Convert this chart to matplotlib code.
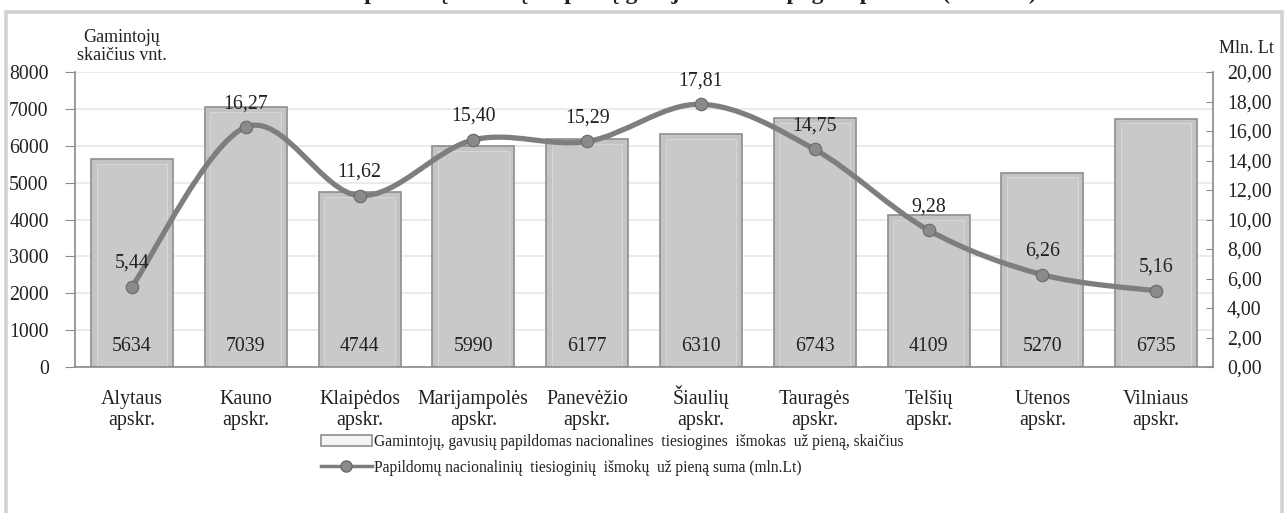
import matplotlib.pyplot as plt
from matplotlib.path import Path
from matplotlib.patches import PathPatch, Rectangle
from matplotlib.lines import Line2D
from matplotlib.transforms import blended_transform_factory

categories = ['Alytaus\napskr.', 'Kauno\napskr.', 'Klaipėdos\napskr.', 'Marijampolės\napskr.',
              'Panevėžio\napskr.', 'Šiaulių\napskr.', 'Tauragės\napskr.', 'Telšių\napskr.',
              'Utenos\napskr.', 'Vilniaus\napskr.']
producers = [5634, 7039, 4744, 5990, 6177, 6310, 6743, 4109, 5270, 6735]
payments = [5.44, 16.27, 11.62, 15.40, 15.29, 17.81, 14.75, 9.28, 6.26, 5.16]
left_ticks = [0, 1000, 2000, 3000, 4000, 5000, 6000, 7000, 8000]
right_ticks = [0, 2, 4, 6, 8, 10, 12, 14, 16, 18, 20]

bar_label = 'Gamintojų, gavusių papildomas nacionalines  tiesiogines  išmokas  už pieną, skaičius'
line_label = 'Papildomų nacionalinių  tiesioginių  išmokų  už pieną suma (mln.Lt)'
title = 'Papildomų išmokų už pieną gavėjai ir suma pagal apskritis (2012 m.)'

plt.rcParams['font.family'] = 'Liberation Serif'
txt = '#222222'
fs = 14.3

fig = plt.figure(figsize=(12.85, 5.13), dpi=100)
ax = fig.add_axes([0.0584, 0.2846, 0.8856, 0.575])
ax2 = ax.twinx()

# outer frame
fig.patches.append(Rectangle((6 / 1285, -0.05), 1276 / 1285, 1.05 - 12 / 513, transform=fig.transFigure,
                             fill=False, edgecolor='#d2d2d2', lw=2.6))
# title is cut by the top edge in the reference, only descenders show
fig.text(0.535, 1 + 1.5 / 513, title, ha='center', va='baseline', fontsize=17, fontweight='bold', color=txt)

x = list(range(len(categories)))
ax.bar(x, producers, width=0.72, color='#c4c4c6', edgecolor='#8e8e90', lw=1.2, zorder=2)
ax.bar(x, [p - 120 for p in producers], width=0.62, color='#c9c9cb', edgecolor='#d6d6d8', lw=0.8, zorder=2)
for xi, v in zip(x, producers):
    ax.text(xi, 560, str(v), ha='center', va='center', fontsize=fs, color=txt, zorder=3)

ax.set_xlim(-0.5, 9.5)
ax.set_ylim(0, 8000)
ax.set_yticks(left_ticks)
ax.set_yticklabels([str(t) for t in left_ticks])
ax.set_xticks([])
trans = blended_transform_factory(ax.transData, fig.transFigure)
for xi, c in zip(x, categories):
    first, second = c.split('\n')
    ax.text(xi, 1 - 404 / 513, first, transform=trans, ha='center', va='baseline', fontsize=fs, color=txt)
    ax.text(xi, 1 - 425 / 513, second, transform=trans, ha='center', va='baseline', fontsize=fs, color=txt)
ax.tick_params(axis='y', labelsize=fs, labelcolor=txt, color='#8a8a8a', length=7, pad=12)
ax.grid(axis='y', color='#e8e8e8', lw=1.2, zorder=0)
ax.set_axisbelow(True)
for s in ['top', 'right']:
    ax.spines[s].set_visible(False)
for s in ['left', 'bottom']:
    ax.spines[s].set_color('#8a8a8a')
    ax.spines[s].set_linewidth(1.2)

# smoothed line (Catmull-Rom bezier like Excel)
pts = list(zip(x, payments))
verts = [pts[0]]
codes = [Path.MOVETO]
n = len(pts)
for i in range(n - 1):
    p0 = pts[i - 1] if i > 0 else pts[i]
    p1 = pts[i]
    p2 = pts[i + 1]
    p3 = pts[i + 2] if i + 2 < n else pts[i + 1]
    c1 = (p1[0] + (p2[0] - p0[0]) / 6, p1[1] + (p2[1] - p0[1]) / 6)
    c2 = (p2[0] - (p3[0] - p1[0]) / 6, p2[1] - (p3[1] - p1[1]) / 6)
    verts += [c1, c2, p2]
    codes += [Path.CURVE4] * 3
ax2.add_patch(PathPatch(Path(verts, codes), fill=False, edgecolor='#7e7e80', lw=3.8, zorder=4,
                        capstyle='round'))
ax2.plot(x, payments, 'o', ms=9, color='#8a8a8c', mec='#6a6a6c', mew=0.8, zorder=5)
for xi, v in zip(x, payments):
    ax2.annotate(f'{v:.2f}'.replace('.', ','), (xi, v), xytext=(0, 10), textcoords='offset points',
                 ha='center', va='bottom', fontsize=fs, color=txt, zorder=6)

ax2.set_ylim(0, 20)
ax2.set_yticks(right_ticks)
ax2.set_yticklabels([f'{t:.2f}'.replace('.', ',') for t in right_ticks])
ax2.tick_params(axis='y', direction='in', labelsize=fs, labelcolor=txt, color='#8a8a8a', length=5, pad=10)
for s in ['top', 'left', 'bottom']:
    ax2.spines[s].set_visible(False)
ax2.spines['right'].set_color('#8a8a8a')
ax2.spines['right'].set_linewidth(1.2)

fig.text(122 / 1285, 1 - 60 / 513, 'Gamintojų\nskaičius vnt.', ha='center', va='baseline', fontsize=13,
         color=txt, linespacing=1.05)
fig.text(1219 / 1285, 1 - 53 / 513, 'Mln. Lt', ha='left', va='baseline', fontsize=13, color=txt)

h1 = Rectangle((0, 0), 1, 1, facecolor='#f4f4f4', edgecolor='#8e8e90', lw=1.2)
h2 = Line2D([], [], color='#7e7e80', lw=2.5, marker='o', ms=8, mfc='#8a8a8c', mec='#6a6a6c')
fig.legend([h1, h2], [bar_label, line_label], loc='upper left', bbox_to_anchor=(313 / 1285, 1 - 426 / 513),
           frameon=False, fontsize=11.2, handlelength=3.3, handleheight=0.7, handletextpad=0.1,
           labelspacing=0.65, labelcolor=txt, borderpad=0)

fig.savefig('out.png', dpi=100)
